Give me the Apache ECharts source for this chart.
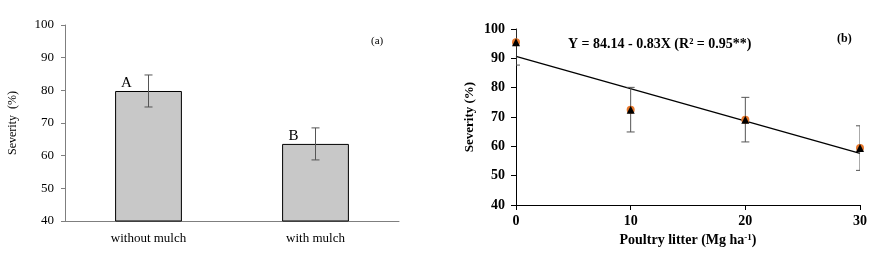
<!DOCTYPE html>
<html>
<head>
<meta charset="utf-8">
<script src="https://cdn.jsdelivr.net/npm/echarts@6/dist/echarts.min.js"></script>
<style>
  html, body { margin: 0; padding: 0; background: #fff; }
  #chart { width: 882px; height: 255px; }
</style>
</head>
<body>
<div id="chart"></div>
<script>
// panel (a): mulch treatment
var mulchCats = ['without mulch', 'with mulch'];
var mulchSeverity = [79.8, 63.6];
var mulchErr = [4.9, 4.9];
var mulchLetters = ['A', 'B'];

// panel (b): poultry litter doses
var litterDose = [0, 10, 20, 30];
var litterSeverity = [95.5, 72.5, 69.1, 59.4];
var litterErr = [7.8, 7.6, 7.6, 7.6];
var fitLine = [[0, 90.7], [30, 57.6]];

var yTicks = [40, 100, 10];

var serif = '"Liberation Serif", "Times New Roman", serif';

var chart = echarts.init(document.getElementById('chart'));

function errBar(params, api) {
  var x = api.value(0), y = api.value(1), e = api.value(2);
  var top = api.coord([x, y + e]);
  var bot = api.coord([x, y - e]);
  var c = api.coord([x, y]);
  var w = 4;
  var st = { stroke: '#555', lineWidth: 1 };
  return {
    type: 'group',
    children: [
      { type: 'line', shape: { x1: c[0], y1: top[1], x2: c[0], y2: bot[1] }, style: st },
      { type: 'line', shape: { x1: c[0] - w, y1: top[1], x2: c[0] + w, y2: top[1] }, style: st },
      { type: 'line', shape: { x1: c[0] - w, y1: bot[1], x2: c[0] + w, y2: bot[1] }, style: st }
    ]
  };
}

var option = {
  animation: false,
  textStyle: { fontFamily: serif },
  grid: [
    { left: 65, right: 483, top: 25, bottom: 34 },
    { left: 516, right: 22, top: 29, bottom: 50 }
  ],
  xAxis: [{
    gridIndex: 0,
    type: 'category',
    data: mulchCats,
    axisLine: { lineStyle: { color: '#7f7f7f' } },
    axisTick: { show: false },
    axisLabel: { color: '#000', fontSize: 13, margin: 11, fontFamily: serif }
  }, {
    gridIndex: 1,
    type: 'value',
    min: 0, max: 30, interval: 10,
    splitLine: { show: false },
    axisLine: { lineStyle: { color: '#000' } },
    axisTick: { length: 5, lineStyle: { color: '#000' } },
    axisLabel: { color: '#000', fontSize: 14, fontWeight: 'bold', margin: 9, fontFamily: serif },
    name: 'Poultry litter (Mg ha{sup|-1})',
    nameLocation: 'middle',
    nameGap: 27,
    nameTextStyle: {
      color: '#000', fontSize: 14, fontWeight: 'bold', fontFamily: serif,
      rich: { sup: { fontSize: 9, fontWeight: 'bold', verticalAlign: 'top', padding: [0, 0, 6, 0], fontFamily: serif } }
    }
  }],
  yAxis: [{
    gridIndex: 0,
    type: 'value',
    min: yTicks[0], max: yTicks[1], interval: yTicks[2],
    splitLine: { show: false },
    axisLine: { show: true, lineStyle: { color: '#7f7f7f' } },
    axisTick: { show: true, length: 4, lineStyle: { color: '#7f7f7f' } },
    axisLabel: { color: '#000', fontSize: 13, margin: 11, fontFamily: serif },
    name: 'Severity  (%)',
    nameLocation: 'middle',
    nameGap: 46,
    nameTextStyle: { color: '#000', fontSize: 12, fontFamily: serif }
  }, {
    gridIndex: 1,
    type: 'value',
    min: yTicks[0], max: yTicks[1], interval: yTicks[2],
    splitLine: { show: false },
    axisLine: { show: true, lineStyle: { color: '#000' } },
    axisTick: { show: true, length: 5, lineStyle: { color: '#000' } },
    axisLabel: { color: '#000', fontSize: 14, fontWeight: 'bold', margin: 11, fontFamily: serif },
    name: 'Severity (%)',
    nameLocation: 'middle',
    nameGap: 40,
    nameTextStyle: { color: '#000', fontSize: 13, fontWeight: 'bold', fontFamily: serif }
  }],
  series: [{
    type: 'bar',
    xAxisIndex: 0, yAxisIndex: 0,
    data: mulchSeverity,
    barWidth: '40%',
    itemStyle: { color: '#c8c8c8', borderColor: '#000', borderWidth: 1 },
    label: {
      show: true,
      position: 'top',
      offset: [-22, 5],
      fontSize: 15,
      color: '#000',
      fontFamily: serif,
      formatter: function (p) { return mulchLetters[p.dataIndex]; }
    }
  }, {
    type: 'custom',
    xAxisIndex: 0, yAxisIndex: 0,
    renderItem: errBar,
    data: mulchSeverity.map(function (v, i) { return [i, v, mulchErr[i]]; }),
    z: 5
  }, {
    type: 'line',
    xAxisIndex: 1, yAxisIndex: 1,
    data: fitLine,
    symbol: 'none',
    lineStyle: { color: '#000', width: 1.3 },
    z: 3
  }, {
    type: 'custom',
    xAxisIndex: 1, yAxisIndex: 1,
    renderItem: errBar,
    clip: true,
    data: litterDose.map(function (d, i) { return [d, litterSeverity[i], litterErr[i]]; }),
    z: 4
  }, {
    type: 'scatter',
    xAxisIndex: 1, yAxisIndex: 1,
    data: litterDose.map(function (d, i) { return [d, litterSeverity[i]]; }),
    symbol: 'circle',
    symbolSize: 8,
    itemStyle: { color: '#e8782c', opacity: 1 },
    z: 5
  }, {
    type: 'scatter',
    xAxisIndex: 1, yAxisIndex: 1,
    data: litterDose.map(function (d, i) { return [d, litterSeverity[i]]; }),
    symbol: 'triangle',
    symbolSize: 8,
    itemStyle: { color: '#000', opacity: 1 },
    z: 6
  }],
  graphic: [{
    type: 'text', left: 371, top: 36,
    style: { text: '(a)', font: '11px ' + serif, fill: '#000' }
  }, {
    type: 'text', left: 837, top: 33,
    style: { text: '(b)', font: 'bold 12px ' + serif, fill: '#000' }
  }, {
    type: 'text', left: 568, top: 37,
    style: { text: 'Y = 84.14 - 0.83X (R² = 0.95**)', font: 'bold 14px ' + serif, fill: '#000' }
  }]
};

chart.setOption(option);
</script>
</body>
</html>
